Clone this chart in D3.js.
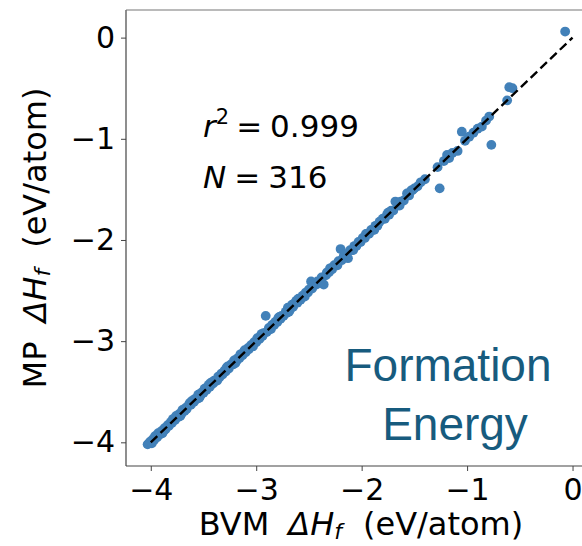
<!DOCTYPE html>
<html><head><meta charset="utf-8">
<script src="https://cdn.jsdelivr.net/npm/d3@7"></script>
<style>html,body{margin:0;padding:0;background:#fff;}svg{display:block;}</style>
</head><body>
<svg id="c" width="582" height="546"></svg>
<script>
const bvm = [-4.03,-4.01,-4.00,-3.99,-3.98,-3.97,-3.95,-3.94,-3.93,-3.91,-3.90,-3.88,-3.87,-3.86,-3.84,-3.83,-3.81,-3.80,-3.78,-3.77,
-3.76,-3.74,-3.73,-3.71,-3.70,-3.68,-3.67,-3.66,-3.64,-3.62,-3.61,-3.59,-3.58,-3.56,-3.55,-3.53,-3.52,-3.50,-3.49,-3.47,
-3.46,-3.44,-3.43,-3.41,-3.40,-3.38,-3.36,-3.35,-3.33,-3.32,-3.30,-3.29,-3.27,-3.26,-3.24,-3.22,-3.21,-3.19,-3.18,-3.16,
-3.15,-3.13,-3.12,-3.10,-3.08,-3.07,-3.05,-3.04,-3.02,-3.00,-2.99,-2.97,-2.96,-2.94,-2.93,-2.91,-2.90,-2.88,-2.87,-2.85,
-2.83,-2.82,-2.80,-2.79,-2.77,-2.76,-2.74,-2.72,-2.71,-2.70,-2.68,-2.66,-2.65,-2.63,-2.61,-2.60,-2.58,-2.56,-2.55,-2.53,
-2.51,-2.50,-2.48,-2.47,-2.45,-2.43,-2.42,-2.40,-2.38,-2.36,-2.34,-2.33,-2.31,-2.29,-2.28,-2.26,-2.24,-2.22,-2.20,-2.19,
-2.17,-2.15,-2.13,-2.11,-2.09,-2.07,-2.05,-2.03,-2.01,-1.99,-1.97,-1.95,-1.93,-1.91,-1.89,-1.87,-1.85,-1.83,-1.80,-1.78,
-1.76,-1.74,-1.72,-1.70,-1.68,-1.66,-1.63,-1.60,-1.57,-1.55,-1.52,-1.50,-1.47,-1.44,-1.40,-1.28,-1.26,-1.22,-1.19,-1.17,
-1.14,-1.09,-1.05,-1.02,-0.98,-0.94,-0.90,-0.86,-0.82,-0.79,-0.77,-0.62,-0.60,-0.57,-0.07,
-3.96,-3.89,-3.79,-3.72,-3.63,-3.54,-3.45,-3.37,-3.28,-3.20,-3.11,-3.03,-2.95,-2.86,-2.78,-2.69,-2.62,-2.54,-2.46,-2.39,
-2.30,-2.23,-2.16,-2.08,-1.96,-1.88,-1.75,-1.64,-1.53];
const mp = [-4.02,-4.00,-3.99,-4.01,-3.97,-3.98,-3.94,-3.95,-3.91,-3.92,-3.89,-3.89,-3.86,-3.87,-3.83,-3.84,-3.80,-3.81,-3.77,-3.78,
-3.74,-3.75,-3.72,-3.72,-3.68,-3.69,-3.66,-3.67,-3.63,-3.63,-3.59,-3.60,-3.57,-3.57,-3.53,-3.54,-3.51,-3.51,-3.47,-3.48,
-3.45,-3.45,-3.41,-3.42,-3.39,-3.39,-3.35,-3.36,-3.32,-3.33,-3.29,-3.30,-3.25,-3.27,-3.23,-3.23,-3.19,-3.20,-3.17,-3.17,
-3.13,-3.14,-3.11,-3.11,-3.07,-3.08,-3.04,-3.05,-3.01,-3.01,-2.97,-2.98,-2.95,-2.95,-2.92,-2.75,-2.91,-2.87,-2.88,-2.84,
-2.84,-2.81,-2.81,-2.77,-2.78,-2.75,-2.75,-2.71,-2.72,-2.67,-2.69,-2.64,-2.66,-2.62,-2.62,-2.58,-2.59,-2.55,-2.56,-2.52,
-2.52,-2.49,-2.41,-2.48,-2.44,-2.44,-2.41,-2.41,-2.37,-2.44,-2.35,-2.32,-2.32,-2.28,-2.29,-2.25,-2.25,-2.21,-2.09,-2.20,
-2.16,-2.16,-2.18,-2.10,-2.10,-2.06,-2.06,-2.02,-2.02,-1.98,-1.98,-1.94,-1.94,-1.90,-1.90,-1.86,-1.86,-1.82,-1.79,-1.79,
-1.75,-1.75,-1.71,-1.71,-1.62,-1.66,-1.62,-1.61,-1.54,-1.56,-1.51,-1.49,-1.47,-1.43,-1.40,-1.28,-1.49,-1.22,-1.16,-1.19,
-1.14,-1.12,-0.93,-1.02,-0.98,-0.94,-0.90,-0.88,-0.82,-0.78,-1.06,-0.62,-0.49,-0.50,0.06,
-3.94,-3.91,-3.77,-3.74,-3.61,-3.56,-3.43,-3.39,-3.26,-3.22,-3.09,-3.05,-2.93,-2.88,-2.76,-2.71,-2.60,-2.56,-2.44,-2.41,
-2.28,-2.25,-2.14,-2.10,-1.94,-1.90,-1.73,-1.66,-1.51];
const fitLine = [-4.0, 0.0];
const ticks = [-4, -3, -2, -1, 0];

const svg = d3.select("#c");
const L = 126, T = 10, B = 466, R = 601;
const x = d3.scaleLinear().domain([-4.235, 0.27]).range([L, R]);
const y = d3.scaleLinear().domain([-4.234, 0.273]).range([B, T]);
const fam = "'DejaVu Sans', sans-serif";
const fmt = d => d === 0 ? "0" : "\u2212" + Math.abs(d);

// points
svg.append("g").selectAll("circle").data(bvm.map((v,i)=>[v, mp[i]])).join("circle")
  .attr("cx", d=>x(d[0])).attr("cy", d=>y(d[1])).attr("r", 4.9).attr("fill", "#4281b9");

// dashed parity line
svg.append("line").attr("x1", x(fitLine[0])).attr("y1", y(fitLine[0]))
  .attr("x2", x(fitLine[1])).attr("y2", y(fitLine[1]))
  .attr("stroke", "#000").attr("stroke-width", 2.4).attr("stroke-dasharray", "9,4.5");

// frame
const fr = svg.append("g").attr("fill","none").attr("stroke","#444").attr("stroke-width",1.2);
fr.append("line").attr("x1",L).attr("x2",L).attr("y1",T).attr("y2",B);
fr.append("line").attr("x1",L).attr("x2",R).attr("y1",B).attr("y2",B);
fr.append("line").attr("x1",L).attr("x2",R).attr("y1",T).attr("y2",T).attr("stroke","#777");
fr.append("line").attr("x1",R).attr("x2",R).attr("y1",T).attr("y2",B);

// x axis
const xa = svg.append("g").attr("transform", `translate(0,${B})`)
  .call(d3.axisBottom(x).tickValues(ticks).tickSize(5).tickSizeOuter(0).tickPadding(8).tickFormat(fmt));
xa.select(".domain").remove();
xa.selectAll(".tick line").attr("stroke","#444");
xa.selectAll("text").attr("font-family", fam).attr("font-size", 30).attr("fill","#000");

// y axis
const ya = svg.append("g").attr("transform", `translate(${L},0)`)
  .call(d3.axisLeft(y).tickValues(ticks).tickSize(5).tickSizeOuter(0).tickPadding(6).tickFormat(fmt));
ya.select(".domain").remove();
ya.selectAll(".tick line").attr("stroke","#444");
ya.selectAll("text").attr("font-family", fam).attr("font-size", 30).attr("fill","#000");

function mathLabel(sel, prefix){
  sel.append("tspan").text(prefix);
  sel.append("tspan").attr("dx", 19).attr("font-style","italic").text("\u0394H");
  sel.append("tspan").attr("font-style","italic").attr("font-size", 22).attr("dy", 4).text("f");
  sel.append("tspan").attr("dy", -4).attr("dx", 21).text("(eV/atom)");
}
const xl = svg.append("text").attr("x", 361).attr("y", 535).attr("text-anchor","middle")
  .attr("font-family", fam).attr("font-size", 32).attr("fill","#000");
mathLabel(xl, "BVM");
const yl = svg.append("text").attr("transform","translate(46,238) rotate(-90)").attr("text-anchor","middle")
  .attr("font-family", fam).attr("font-size", 32).attr("fill","#000");
mathLabel(yl, "MP");

// stats text
const t1 = svg.append("text").attr("x", 203).attr("y", 137).attr("font-family", fam).attr("font-size", 31).attr("fill","#000");
t1.append("tspan").attr("font-style","italic").text("r");
t1.append("tspan").attr("font-size", 21).attr("dy", -13).text("2");
t1.append("tspan").attr("dy", 13).attr("dx", 7).text("=");
t1.append("tspan").attr("dx", 8).text("0.999");
const t2 = svg.append("text").attr("x", 203).attr("y", 188).attr("font-family", fam).attr("font-size", 31).attr("fill","#000");
t2.append("tspan").attr("font-style","italic").text("N");
t2.append("tspan").attr("dx", 8).text("=");
t2.append("tspan").attr("dx", 8).text("316");

// annotation
const an = svg.append("text").attr("text-anchor","middle").attr("font-family","'Liberation Sans', Arial, sans-serif")
  .attr("font-size", 46).attr("fill", "#175b7e");
an.append("tspan").attr("x", 448).attr("y", 381).text("Formation");
an.append("tspan").attr("x", 455).attr("y", 440).text("Energy");
</script>
</body></html>
